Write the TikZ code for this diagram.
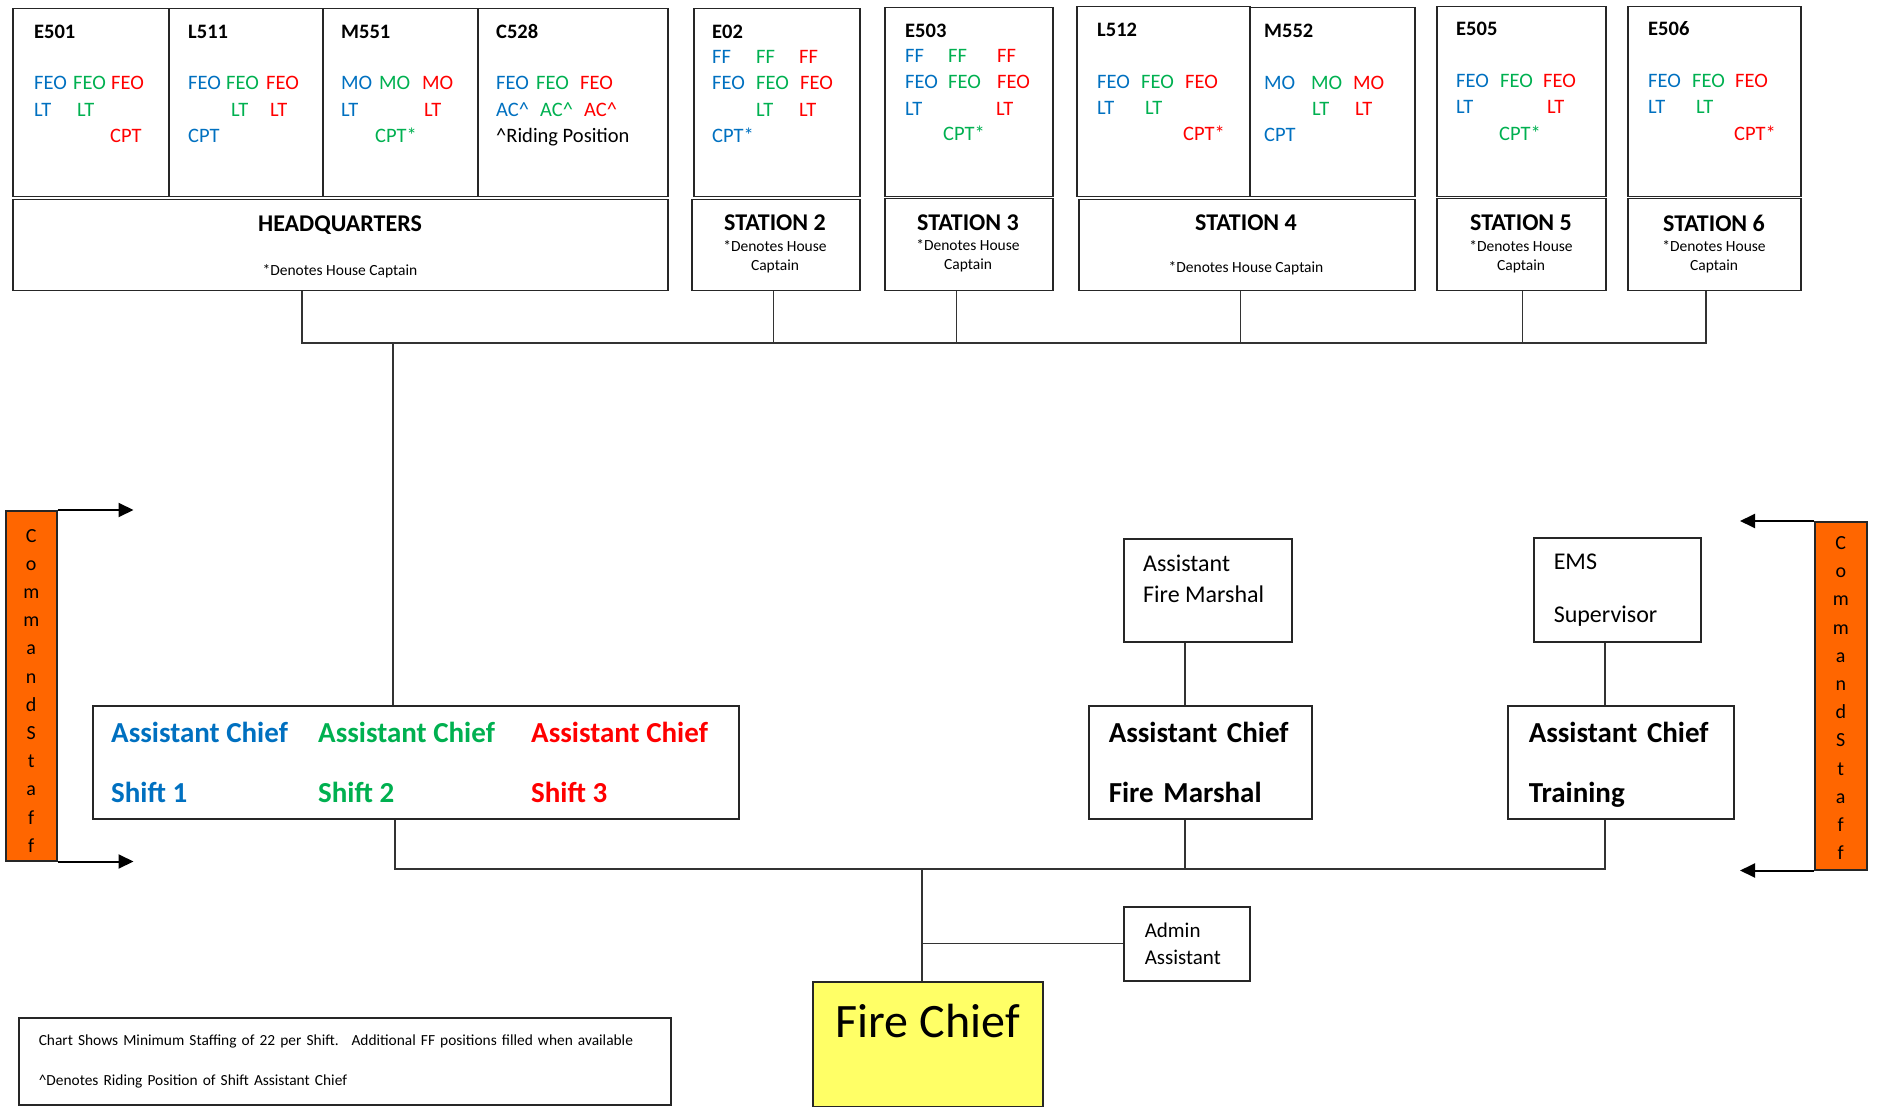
\documentclass[tikz,border=0pt]{standalone}
\usepackage{fontspec}
\setmainfont{Carlito}
\usetikzlibrary{arrows.meta}
\definecolor{sblue}{HTML}{0070C0}
\definecolor{sgreen}{HTML}{00B050}
\definecolor{sred}{HTML}{FF0000}
\definecolor{stafforange}{HTML}{FF6600}
\definecolor{chiefyellow}{HTML}{FFFF66}
\tikzset{
    box/.style={draw=black!85, line width=1.5pt, inner sep=0pt, anchor=north west},
    textbox/.style={box, align=left, inner xsep=20pt},
    crew/.style={anchor=base west, inner sep=0pt, font=\fontsize{20.5}{24}\selectfont},
    unitname/.style={crew, font=\fontsize{20.5}{24}\selectfont\bfseries},
    stname/.style={inner sep=0pt, font=\fontsize{24}{28}\selectfont\bfseries},
    stnote/.style={inner sep=0pt, align=center, font=\fontsize{15.5}{19}\selectfont},
    acname/.style={anchor=west, inner sep=0pt, align=left, font=\fontsize{29}{60}\selectfont\bfseries},
    link/.style={draw=black!80, line width=1.2pt},
    staff/.style={box, fill=stafforange, align=center, font=\fontsize{20}{28.2}\selectfont},
    staffarrow/.style={-{Triangle[length=15pt,width=14pt]}, line width=2pt},
}
\newcommand{\unitbox}[5]{
    \node[box, minimum width=#4, minimum height=#5] (#1) at (#2,#3) {};
}

\begin{document}
\begin{tikzpicture}[x=1pt,y=-1pt]
    \useasboundingbox (0,0) rectangle (1879,1107);

    % apparatus boxes
    \unitbox{e501}{12}{8}{156}{188}
    \unitbox{l511}{168}{8}{154}{188}
    \unitbox{m551}{322}{8}{155}{188}
    \unitbox{c528}{477}{8}{190}{188}
    \unitbox{e02}{693}{8}{166}{188}
    \unitbox{e503}{884}{7}{168}{189}
    \unitbox{l512}{1076}{6}{173}{190}
    \unitbox{m552}{1249}{7}{165}{189}
    \unitbox{e505}{1436}{6}{169}{190}
    \unitbox{e506}{1627}{6}{173}{190}

    \foreach \t/\x/\y in {E501/34/39, L511/188/39, M551/341/39, C528/496/39,
        E02/712/39, E503/905/38, L512/1097/37, M552/1264/38, E505/1456/36, E506/1648/36}
        \node[unitname] (\t-name) at (\x,\y) {\t};

    \foreach \c/\x/\y/\t [count=\i] in {
        sblue/34/90/FEO, sgreen/73/90/FEO, sred/111/90/FEO, sblue/34/117/LT, sgreen/77/117/LT, sred/110/143/CPT,
        sblue/188/90/FEO, sgreen/226/90/FEO, sred/266/90/FEO, sgreen/231/117/LT, sred/270/117/LT, sblue/188/143/CPT,
        sblue/341/90/MO, sgreen/379/90/MO, sred/422/90/MO, sblue/341/117/LT, sred/424/117/LT, sgreen/375/143/CPT*,
        sblue/496/90/FEO, sgreen/536/90/FEO, sred/580/90/FEO,
        sblue/496/117/AC\textasciicircum, sgreen/540/117/AC\textasciicircum, sred/584/117/AC\textasciicircum,
        black/496/143/\textasciicircum Riding Position,
        sblue/712/64/FF, sgreen/756/64/FF, sred/799/64/FF,
        sblue/712/90/FEO, sgreen/756/90/FEO, sred/800/90/FEO, sgreen/756/117/LT, sred/799/117/LT, sblue/712/143/CPT*,
        sblue/905/63/FF, sgreen/948/63/FF, sred/997/63/FF,
        sblue/905/89/FEO, sgreen/948/89/FEO, sred/997/89/FEO, sblue/905/116/LT, sred/996/116/LT, sgreen/943/141/CPT*,
        sblue/1097/89/FEO, sgreen/1141/89/FEO, sred/1185/89/FEO, sblue/1097/115/LT, sgreen/1145/115/LT, sred/1183/141/CPT*,
        sblue/1264/90/MO, sgreen/1311/90/MO, sred/1353/90/MO, sgreen/1312/116/LT, sred/1355/116/LT, sblue/1264/142/CPT,
        sblue/1456/88/FEO, sgreen/1500/88/FEO, sred/1543/88/FEO, sblue/1456/114/LT, sred/1547/114/LT, sgreen/1499/141/CPT*,
        sblue/1648/88/FEO, sgreen/1692/88/FEO, sred/1735/88/FEO, sblue/1648/114/LT, sgreen/1696/114/LT, sred/1734/141/CPT*}
        \node[crew, text=\c] (crew\i) at (\x,\y) {\t};

    % stations
    \unitbox{hq}{12}{199}{655}{91}
    \unitbox{st2}{691}{199}{168}{91}
    \unitbox{st3}{884}{198}{168}{92}
    \unitbox{st4}{1078}{199}{336}{91}
    \unitbox{st5}{1436}{198}{169}{92}
    \unitbox{st6}{1627}{198}{173}{92}

    \node[stname] (hq-name) at (340,225) {HEADQUARTERS};
    \node[stnote] (hq-note) at (340,271) {*Denotes House Captain};
    \node[stname] (st2-name) at (775,223) {STATION 2};
    \node[stnote] (st2-note) at (775,257) {*Denotes House\\Captain};
    \node[stname] (st3-name) at (968,223) {STATION 3};
    \node[stnote] (st3-note) at (968,256) {*Denotes House\\Captain};
    \node[stname] (st4-name) at (1246,223) {STATION 4};
    \node[stnote] (st4-note) at (1246,268) {*Denotes House Captain};
    \node[stname] (st5-name) at (1521,223) {STATION 5};
    \node[stnote] (st5-note) at (1521,257) {*Denotes House\\Captain};
    \node[stname] (st6-name) at (1714,223) {STATION 6};
    \node[stnote] (st6-note) at (1714,257) {*Denotes House\\Captain};

    % command staff
    \unitbox{shifts}{92}{705}{646}{113}
    \node[acname, text=sblue] (ac1) at (111,762) {Assistant Chief\\Shift 1};
    \node[acname, text=sgreen] (ac2) at (318,762) {Assistant Chief\\Shift 2};
    \node[acname, text=sred] (ac3) at (531,762) {Assistant Chief\\Shift 3};

    \unitbox{afm}{1123}{538}{168}{103}
    \node[anchor=west, inner sep=0pt, align=left, font=\fontsize{24}{31}\selectfont]
        (afm-text) at (1143,579) {Assistant\\Fire Marshal};
    \node[textbox, minimum width=223, minimum height=113, text width=183pt,
          font=\fontsize{29}{60}\selectfont\bfseries] (acfm) at (1088,705) {Assistant Chief\\Fire Marshal};
    \node[textbox, minimum width=167, minimum height=104, text width=127pt,
          font=\fontsize{24}{53}\selectfont] (ems) at (1533,537) {EMS\\Supervisor};
    \node[textbox, minimum width=226, minimum height=113, inner xsep=21pt, text width=184pt, text depth=60pt,
          font=\fontsize{29}{60}\selectfont\bfseries] (train) at (1507,705) {Assistant Chief\\Training};
    \node[textbox, minimum width=126, minimum height=74, inner xsep=21pt, text width=84pt,
          font=\fontsize{21}{27}\selectfont] (admin) at (1123,906) {Admin\\Assistant};
    \node[box, fill=chiefyellow, minimum width=230, minimum height=125, text height=33pt, text depth=46pt,
          font=\fontsize{48}{56}\selectfont] (chief) at (812,981) {Fire Chief};
    \node[textbox, minimum width=649, minimum height=87, text width=612pt,
          font=\fontsize{15.4}{40.5}\selectfont] (note) at (18,1017)
        {Chart Shows Minimum Staffing of 22 per Shift.~ Additional FF positions filled when available\\
         \textasciicircum Denotes Riding Position of Shift Assistant Chief};

    \node[staff, minimum width=51, minimum height=350, text height=333pt, text depth=0pt]
        (csl) at (5,510) {C\\o\\m\\m\\a\\n\\d\\S\\t\\a\\f\\f};
    \node[staff, minimum width=52, minimum height=348, text height=328pt, text depth=0pt]
        (csr) at (1814,521) {C\\o\\m\\m\\a\\n\\d\\S\\t\\a\\f\\f};
    \draw[staffarrow] (csl.north east) -- ++(76,0);
    \draw[staffarrow] (csl.south east) -- ++(76,0);
    \draw[staffarrow] (csr.north west) -- ++(-74,0);
    \draw[staffarrow] (csr.south west) -- ++(-74,0);

    % connectors
    \coordinate (topL) at (302,343);
    \coordinate (topR) at (1706,343);
    \coordinate (shiftx) at (393,343);
    \coordinate (botL) at (395,869);
    \coordinate (botR) at (1605,869);
    \coordinate (fmx) at (1185,869);
    \coordinate (chiefx) at (922,869);

    \draw[link] (hq.south -| topL) -- (topL) -- (topR) -- (topR |- st6.south);
    \draw[link] ([xshift=-2pt]st2.south) -- ([xshift=-2pt]st2.south |- topL);
    \draw[link] ([xshift=-12pt]st3.south) -- ([xshift=-12pt]st3.south |- topL);
    \draw[link] ([xshift=-6pt]st4.south) -- ([xshift=-6pt]st4.south |- topL);
    \draw[link] ([xshift=1pt]st5.south) -- ([xshift=1pt]st5.south |- topL);
    \draw[link] (shiftx) -- (shiftx |- shifts.north);

    \draw[link] (botL |- shifts.south) -- (botL) -- (botR) -- (botR |- train.south);
    \draw[link] (botR |- ems.south) -- (botR |- train.north);
    \draw[link] (fmx |- afm.south) -- (fmx |- acfm.north);
    \draw[link] (fmx |- acfm.south) -- (fmx);
    \draw[link] (chiefx) -- (chiefx |- chief.north);
    \draw[link] (chiefx |- admin.west) -- (admin.west);
\end{tikzpicture}
\end{document}
